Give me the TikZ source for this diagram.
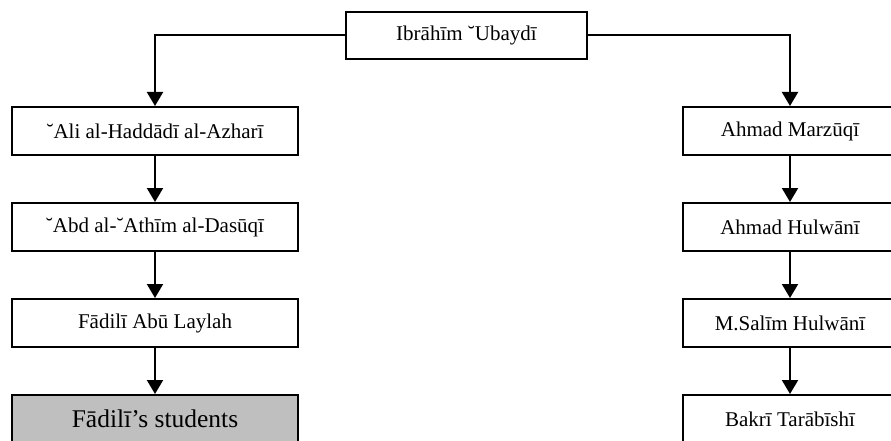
\documentclass[tikz,border=0pt]{standalone}
\usepackage{fontspec}
\setmainfont{Liberation Serif}
\usetikzlibrary{positioning,arrows.meta}

\begin{document}
\begin{tikzpicture}
  [->, >={Triangle[width=16pt,length=14pt]}, line width=2pt,
    person/.style={%
      rectangle, draw, minimum width=286pt, minimum height=48pt,
      inner sep=0pt, font=\fontsize{21}{25}\selectfont
    },
    narrow/.style={%
      person, minimum width=214pt
    },
    teacher/.style={%
      person, minimum width=241pt, minimum height=47pt
    },
    students/.style={%
      person, fill=black!25, font=\fontsize{25.5}{30}\selectfont
    },
  ]

  \useasboundingbox (0,0) rectangle (891pt,-441pt);

  \node[teacher] (ibrahim) at (466.5pt,-35.5pt) {Ibrāhīm ˘Ubaydī};

  % left line
  \node[person] (ali) at (155pt,-131pt) {˘Ali al-Haddādī al-Azharī};
  \node[person] (abd) [below of=ali, node distance=96pt] {˘Abd al-˘Athīm al-Dasūqī};
  \node[person] (fadili) [below of=abd, node distance=96pt] {Fādilī Abū Laylah};
  \node[students] (pupils) [below of=fadili, node distance=96pt] {Fādilī’s students};

  % right line
  \node[narrow] (marzuqi) at (790pt,-131pt) {Ahmad Marzūqī};
  \node[narrow] (ahmad) [below of=marzuqi, node distance=96pt] {Ahmad Hulwānī};
  \node[narrow] (salim) [below of=ahmad, node distance=96pt] {M.Salīm Hulwānī};
  \node[narrow] (bakri) [below of=salim, node distance=96pt] {Bakrī Tarābīshī};

  \draw (ibrahim.west) -| (ali.north);
  \draw (ibrahim.east) -| (marzuqi.north);

  \draw (ali) -- (abd);
  \draw (abd) -- (fadili);
  \draw (fadili) -- (pupils);

  \draw (marzuqi) -- (ahmad);
  \draw (ahmad) -- (salim);
  \draw (salim) -- (bakri);

\end{tikzpicture}
\end{document}
